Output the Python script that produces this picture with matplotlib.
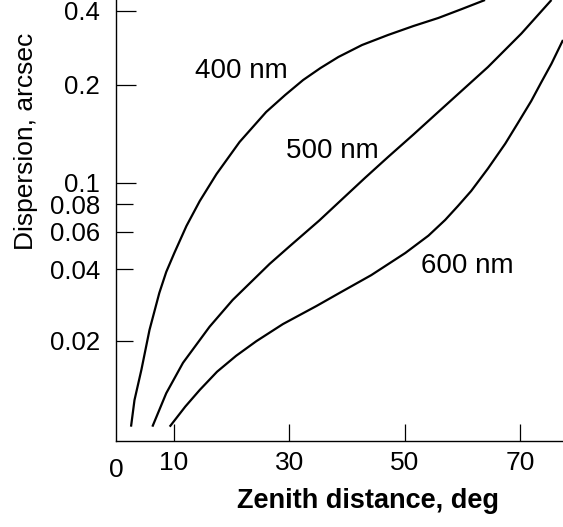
"""Atmospheric dispersion vs zenith distance for three wavelengths."""

import numpy as np
import matplotlib
matplotlib.use('Agg')
import matplotlib.pyplot as plt
from matplotlib import font_manager
from matplotlib.transforms import blended_transform_factory

# ── Data ──
zenith_400 = [2.6, 3.2, 4.4, 5.8, 7.5, 8.7, 10.1, 12.2, 14.5, 17.4, 21.4,
              26.0, 29.3, 32.4, 35.4, 38.5, 42.6, 47.1, 51.5, 55.8, 59.9, 63.9]
disp_400 = [0.0082, 0.0108, 0.0148, 0.0222, 0.0318, 0.0390, 0.0477, 0.0637,
            0.0825, 0.1063, 0.1334, 0.1649, 0.1860, 0.2090, 0.2339, 0.2595,
            0.2905, 0.3192, 0.3473, 0.3745, 0.4076, 0.4436]

zenith_500 = [6.3, 8.7, 11.6, 16.2, 20.2, 26.6, 30.0, 35.2, 39.0, 43.1,
              47.1, 51.5, 55.8, 60.1, 64.4, 70.2, 75.4]
disp_500 = [0.0082, 0.0116, 0.0159, 0.0229, 0.0297, 0.0424, 0.0511, 0.0674,
            0.0834, 0.1034, 0.1199, 0.1406, 0.1649, 0.1933, 0.2361, 0.3237,
            0.4436]

zenith_600 = [9.3, 12.0, 14.5, 17.5, 20.8, 24.3, 28.9, 34.7, 39.0, 44.2,
              50.1, 54.1, 57.0, 59.2, 61.5, 64.4, 67.4, 69.6, 71.9, 73.6,
              75.4, 77.4]
disp_600 = [0.0082, 0.0101, 0.0120, 0.0145, 0.0171, 0.0199, 0.0235, 0.0280,
            0.0321, 0.0378, 0.0477, 0.0575, 0.0678, 0.0783, 0.0917, 0.1105,
            0.1318, 0.1526, 0.1782, 0.2038, 0.2436, 0.3046]

x_ticks = [10, 30, 50, 70]
y_major = [0.1, 0.2, 0.4]
y_minor = [0.02, 0.04, 0.06, 0.08]
curve_labels = ['400 nm', '500 nm', '600 nm']

# ── The original axis is a hand-drawn log scale with uneven decades ──
# pixel rows (from top) of each tick in the original drawing
knot_vals = [0.02, 0.04, 0.06, 0.08, 0.1, 0.2, 0.4]
knot_rows = [340.7, 269.3, 231.7, 204.0, 182.7, 84.7, 11.0]
lv = np.log10(knot_vals)
L = np.concatenate([[lv[0] - 3], lv, [lv[-1] + 3]])
P = -np.concatenate([[knot_rows[0] + 3 * 222], knot_rows, [knot_rows[-1] - 3 * 245]])


def forward(v):
    v = np.maximum(np.asarray(v, dtype=float), 1e-12)
    return np.interp(np.log10(v), L, P)


def inverse(y):
    return 10 ** np.interp(np.asarray(y, dtype=float), P, L)


# ── Fonts ──
plt.rcParams['font.family'] = 'Liberation Sans'
try:
    font_manager.findfont('Liberation Sans Narrow', fallback_to_default=False)
    XLAB_FONT, XLAB_SIZE = 'Liberation Sans Narrow', 24
except ValueError:
    XLAB_FONT, XLAB_SIZE = 'Liberation Sans', 19.5

fig = plt.figure(figsize=(5.63, 5.27), dpi=100)
fig.patch.set_facecolor('white')
ax = fig.add_axes([116 / 563, 86 / 527, 447 / 563, 441 / 527])
ax.set_yscale('function', functions=(forward, inverse))

for xs, ys in [(zenith_400, disp_400), (zenith_500, disp_500), (zenith_600, disp_600)]:
    ax.plot(xs, ys, color='black', lw=1.6, solid_capstyle='butt',
            solid_joinstyle='round')

ax.set_xlim(0, 77.4)
ax.set_ylim(inverse(-441), inverse(0))

ax.set_xticks(x_ticks, [str(t) for t in x_ticks])
ax.set_yticks(y_major, [f'{v:g}' for v in y_major])
ax.set_yticks(y_minor, [f'{v:g}' for v in y_minor], minor=True)
ax.tick_params(axis='x', direction='in', length=12.5, width=0.9, pad=7.5,
               labelsize=19, colors='black')
ax.tick_params(axis='y', which='major', direction='in', length=14.5, width=0.9,
               pad=11.5, labelsize=18.5)
ax.tick_params(axis='y', which='minor', direction='in', length=12.3, width=0.9,
               pad=11.5, labelsize=18.5)

for side in ['top', 'right']:
    ax.spines[side].set_visible(False)
for side in ['left', 'bottom']:
    ax.spines[side].set_linewidth(1.0)
    ax.spines[side].set_color('black')

# lone "0" below the origin, set a little lower than the other tick labels
trans = blended_transform_factory(ax.transData, ax.transAxes)
ax.text(0, -0.039, '0', transform=trans, ha='center', va='top', fontsize=19,
        clip_on=False)

# curve labels
ax.text(21.76, 0.2124, curve_labels[0], ha='center', va='baseline', fontsize=20)
ax.text(37.38, 0.1189, curve_labels[1], ha='center', va='baseline', fontsize=20)
ax.text(60.86, 0.03847, curve_labels[2], ha='center', va='baseline', fontsize=20)

ax.set_xlabel('Zenith distance, deg', fontsize=XLAB_SIZE, fontweight='bold',
              family=XLAB_FONT)
ax.xaxis.set_label_coords((368 - 116) / 447, (441 - 488) / 441)
ax.set_ylabel('Dispersion, arcsec', fontsize=19)
ax.yaxis.set_label_coords((38 - 116) / 447, (441 - 141) / 441)

fig.savefig('out.png', dpi=100, facecolor='white')
